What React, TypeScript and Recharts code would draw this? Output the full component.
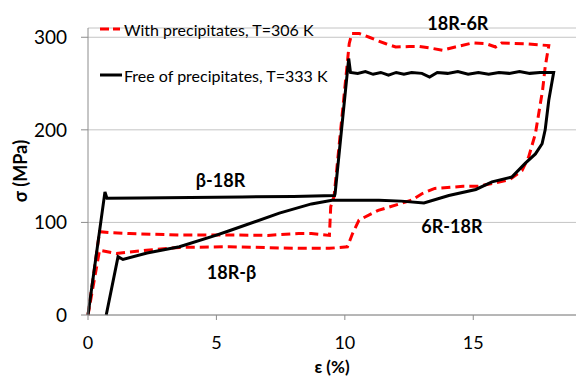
import React from "react";
import {
  LineChart,
  Line,
  XAxis,
  YAxis,
  CartesianGrid,
  ReferenceDot,
} from "recharts";

// strain (%) / stress (MPa)
const freeStrain = [
  0, 0.66, 0.74, 2, 4, 6, 8, 9.6, 9.62, 10.15, 10.22,
  10.5, 10.8, 11.1, 11.4, 11.7, 12.0, 12.3, 12.6, 13.0, 13.3, 13.6, 14.0, 14.4,
  14.8, 15.2, 15.6, 16.0, 16.4, 16.8, 17.2, 17.6, 18.13,
  17.94, 17.8, 17.68, 17.42, 17.03, 16.5, 15.73, 15.1, 14.05, 13.08, 12.2,
  11.33, 10.5, 9.5, 8.7, 7.45, 5.5, 5, 3.56, 2.3, 1.36, 1.17, 0.71,
];
const freeStress = [
  0, 133, 126, 126.5, 127, 127.5, 128, 129, 131, 277, 262,
  261, 263, 260, 262, 259, 262, 260, 262, 261, 257, 262, 261, 263,
  260, 262, 260, 262, 261, 263, 261, 262, 262,
  232, 200, 185, 174, 164, 149, 143.8, 135.6, 129, 121, 123,
  124, 124, 124, 120, 110, 91, 86.3, 73.7, 67, 60, 63, 0,
];

const precStrain = [
  0, 0.45, 0.9, 1.62, 3.57, 5, 7, 8.2, 8.7, 9.4, 9.45, 9.58, 10.17, 10.27,
  10.56, 10.95, 11.3, 11.6, 11.98, 12.5, 12.9, 13.4, 13.8, 14.3, 14.96, 15.5,
  15.87, 16.1, 17, 17.94,
  17.8, 17.7, 17.42, 17.16, 16.9, 16.4, 15.2, 14.6, 13.5, 13.0, 12.6, 11.3,
  10.55, 10.3, 10.1, 9.4, 8.2, 5.5, 3.56, 2.27, 1.1, 0.45, 0.02,
];
const precStress = [
  0, 90, 89, 88, 86.3, 86.5, 86, 88, 88, 86, 117, 128, 293, 304,
  304, 300, 296, 293, 289.5, 290, 290, 288, 286, 289.5, 293.8, 293,
  289.5, 293.8, 293, 291,
  268, 243, 196, 171, 156, 146, 139, 139, 136.7, 131, 124, 113,
  102.5, 88, 73.7, 72, 72, 73.7, 73, 70, 66.5, 70, 3,
];

const seriesNames = ["With precipitates, T=306 K", "Free of precipitates, T=333 K"];

const xTicks = [0, 5, 10, 15];
const yTicks = [0, 100, 200, 300];

const annotations = [
  { text: "18R-6R", x: 14.4, y: 315 },
  { text: "β-18R", x: 5.16, y: 145.6 },
  { text: "18R-β", x: 5.59, y: 45.3 },
  { text: "6R-18R", x: 14.17, y: 95 },
];

const freeData = freeStrain.map((x, i) => ({ x, y: freeStress[i] }));
const precData = precStrain.map((x, i) => ({ x, y: precStress[i] }));

const FONT = "Lato, 'Open Sans', sans-serif";

export default function App() {
  return (
    <div style={{ position: "absolute", left: 0, top: 0, width: 576, height: 376, background: "#fff", fontFamily: FONT }}>
      <LineChart width={576} height={376} margin={{ top: 28, right: 0, left: 0, bottom: 0 }}>
        <CartesianGrid vertical={false} stroke="#c4c4c4" strokeWidth={1} />
        <XAxis
          dataKey="x"
          type="number"
          domain={[0, 19]}
          ticks={xTicks}
          height={61}
          stroke="#8c8c8c"
          tickSize={5}
          tickMargin={16}
          tick={{ fill: "#000", fontSize: 18, fontFamily: FONT }}
          label={{ value: "ε (%)", position: "insideBottom", offset: 3, fill: "#000", fontSize: 17, fontWeight: 700, fontFamily: FONT }}
        />
        <YAxis
          type="number"
          domain={[0, 310]}
          ticks={yTicks}
          width={88}
          stroke="#8c8c8c"
          tickSize={7}
          tickMargin={14}
          tick={{ fill: "#000", fontSize: 19, fontFamily: FONT }}
          label={{
            content: () => (
              <text x={27} y={171} transform="rotate(-90 27 171)" textAnchor="middle" fill="#000" fontSize={18} fontWeight={700} fontFamily={FONT}>
                σ (MPa)
              </text>
            ),
          }}
        />
        <Line
          data={precData}
          dataKey="y"
          type="linear"
          stroke="#ff0000"
          strokeWidth={3}
          strokeDasharray="9 5"
          dot={false}
          isAnimationActive={false}
          name={seriesNames[0]}
        />
        <Line
          data={freeData}
          dataKey="y"
          type="linear"
          stroke="#000"
          strokeWidth={3}
          dot={false}
          isAnimationActive={false}
          name={seriesNames[1]}
        />
        {annotations.map((a) => (
          <ReferenceDot
            key={a.text}
            x={a.x}
            y={a.y}
            r={0}
            ifOverflow="visible"
            label={{ value: a.text, position: "center", fill: "#000", fontSize: 18, fontWeight: 700, fontFamily: FONT }}
          />
        ))}
      </LineChart>
      <div style={{ position: "absolute", left: 100, top: 18, fontSize: 16, color: "#000" }}>
        <div style={{ display: "flex", alignItems: "center", height: 22 }}>
          <svg width={24} height={6}>
            <line x1={0} y1={3} x2={20} y2={3} stroke="#ff0000" strokeWidth={3} strokeDasharray="9 4" />
          </svg>
          <span>{seriesNames[0]}</span>
        </div>
        <div style={{ display: "flex", alignItems: "center", height: 22, marginTop: 24 }}>
          <svg width={24} height={6}>
            <line x1={0} y1={3} x2={22} y2={3} stroke="#000" strokeWidth={3} />
          </svg>
          <span>{seriesNames[1]}</span>
        </div>
      </div>
    </div>
  );
}
